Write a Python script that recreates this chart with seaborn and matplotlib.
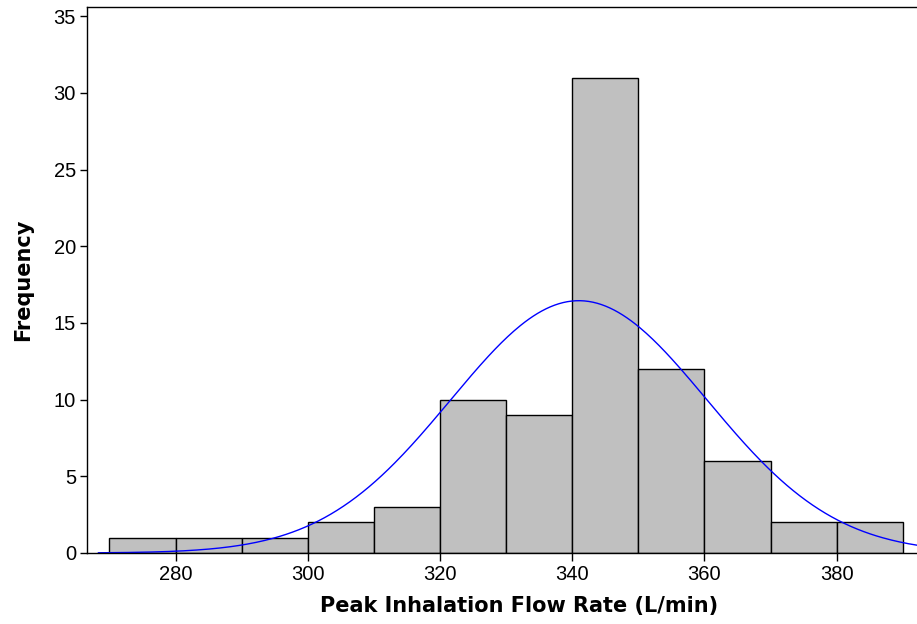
import numpy as np
import pandas as pd
import matplotlib
matplotlib.use('Agg')
import matplotlib.pyplot as plt
import seaborn as sns

# bin edges and frequencies
bin_edges = [270, 280, 290, 300, 310, 320, 330, 340, 350, 360, 370, 380, 390]
counts = [1, 1, 1, 2, 3, 10, 9, 31, 12, 6, 2, 2]

# normal fit parameters (estimated from the drawn curve)
fit_mean = 341.0
fit_sd = 19.4

x_ticks = [280, 300, 320, 340, 360, 380]
y_ticks = [0, 5, 10, 15, 20, 25, 30, 35]

mids = [(a + b) / 2 for a, b in zip(bin_edges[:-1], bin_edges[1:])]
df = pd.DataFrame({'rate': mids, 'n': counts})

sns.set_style('white')
plt.rcParams['font.family'] = ['Liberation Sans', 'DejaVu Sans']
plt.rcParams['text.color'] = 'black'
plt.rcParams['axes.labelcolor'] = 'black'
plt.rcParams['xtick.color'] = 'black'
plt.rcParams['ytick.color'] = 'black'

fig = plt.figure(figsize=(9.17, 6.24), dpi=100)
# the plot frame runs past the right edge of the picture (cropped)
ax = fig.add_axes([87 / 917, 1 - 553 / 624, (951 - 87) / 917, (553 - 7) / 624])

sns.histplot(data=df, x='rate', weights='n', bins=bin_edges, color='#C0C0C0',
             edgecolor='black', linewidth=1, alpha=1, ax=ax)

# fitted normal curve, scaled to frequency
total = sum(counts)
width = bin_edges[1] - bin_edges[0]
xs = np.linspace(268.3, 397, 400)
ys = total * width / (fit_sd * np.sqrt(2 * np.pi)) * np.exp(-0.5 * ((xs - fit_mean) / fit_sd) ** 2)
sns.lineplot(x=xs, y=ys, color='#0000FF', linewidth=1, ax=ax)

ax.set_xlim(266.6, 397.3)
ax.set_ylim(0, 35.6)
ax.set_xticks(x_ticks)
ax.set_yticks(y_ticks)
ax.tick_params(axis='x', direction='out', length=6, width=1, labelsize=14.5, pad=3, bottom=True)
ax.tick_params(axis='y', direction='out', length=5, width=1, labelsize=14.5, pad=3, left=True)
for s in ax.spines.values():
    s.set_color('black')
    s.set_linewidth(1)

lbl_font = ['DejaVu Sans']
ax.set_xlabel('Peak Inhalation Flow Rate (L/min)', fontsize=15, fontweight='bold',
              family=lbl_font, labelpad=8)
ax.set_ylabel('Frequency', fontsize=15, fontweight='bold', family=lbl_font, labelpad=15)

fig.savefig('out.png', dpi=100)
